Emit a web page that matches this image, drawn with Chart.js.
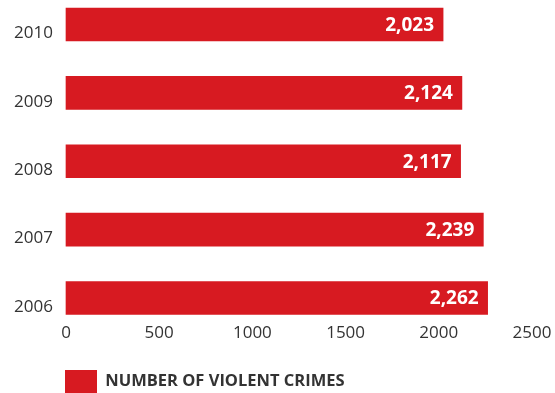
<!DOCTYPE html>
<html>
<head>
<meta charset="utf-8">
<script src="https://cdn.jsdelivr.net/npm/chart.js@4"></script>
<style>
  html, body { margin: 0; padding: 0; background: #fff; }
  #wrap { width: 555px; height: 393px; }
</style>
</head>
<body>
<div id="wrap"><canvas id="crimeChart" width="555" height="393"></canvas></div>
<script>
const years = ["2010", "2009", "2008", "2007", "2006"];
const violentCrimes = [2023, 2124, 2117, 2239, 2262];
const xTicks = [0, 500, 1000, 1500, 2000, 2500];
const seriesName = "NUMBER OF VIOLENT CRIMES";

const red = "#d71a21";
const textColor = "#333333";

// white bold numbers at the end of each bar
const valueLabels = {
    id: "valueLabels",
    afterDatasetsDraw(chart) {
        const ctx = chart.ctx;
        const meta = chart.getDatasetMeta(0);
        ctx.save();
        ctx.fillStyle = "#ffffff";
        ctx.font = "bold 19px 'Open Sans'";
        ctx.textAlign = "right";
        ctx.textBaseline = "middle";
        meta.data.forEach((bar, i) => {
            const v = chart.data.datasets[0].data[i];
            ctx.fillText(v.toLocaleString("en-US"), bar.x - 9, bar.y + 1);
        });
        ctx.restore();
    }
};

// legend sits under the plot, lined up with the bars
const legendShift = {
    id: "legendShift",
    afterLayout(chart) {
        chart.legend.left = chart.chartArea.left - 1;
    }
};

const ctx = document.getElementById("crimeChart").getContext("2d");

new Chart(ctx, {
    type: "bar",
    data: {
        labels: years,
        datasets: [{
            label: seriesName,
            data: violentCrimes,
            backgroundColor: red,
            borderWidth: 0,
            barThickness: 33,
            clip: false
        }]
    },
    options: {
        indexAxis: "y",
        responsive: false,
        animation: false,
        layout: {
            padding: { left: 0, right: 23, top: 24.5, bottom: -10 }
        },
        scales: {
            x: {
                min: 0,
                max: 2500,
                afterBuildTicks: (scale) => {
                    scale.ticks = xTicks.map(v => ({ value: v }));
                },
                afterFit: (scale) => {
                    scale.height = 72;
                    scale.paddingLeft = 0;
                    scale.paddingRight = 0;
                },
                grid: { display: false, drawTicks: false },
                border: { display: false },
                ticks: {
                    padding: 25,
                    color: textColor,
                    font: { family: "'Open Sans'", size: 17 },
                    callback: (v) => String(v)
                }
            },
            y: {
                offset: false,
                afterFit: (scale) => { scale.width = 66; },
                grid: { display: false, drawTicks: false },
                border: { display: false },
                ticks: {
                    padding: 13,
                    labelOffset: 9,
                    color: textColor,
                    font: { family: "'Open Sans'", size: 17 }
                }
            }
        },
        plugins: {
            legend: {
                position: "bottom",
                align: "start",
                labels: {
                    boxWidth: 32,
                    boxHeight: 23,
                    padding: 0,
                    color: textColor,
                    font: { family: "'Open Sans'", size: 16.5, weight: "bold" }
                }
            },
            tooltip: { enabled: false }
        }
    },
    plugins: [valueLabels, legendShift]
});
</script>
</body>
</html>
